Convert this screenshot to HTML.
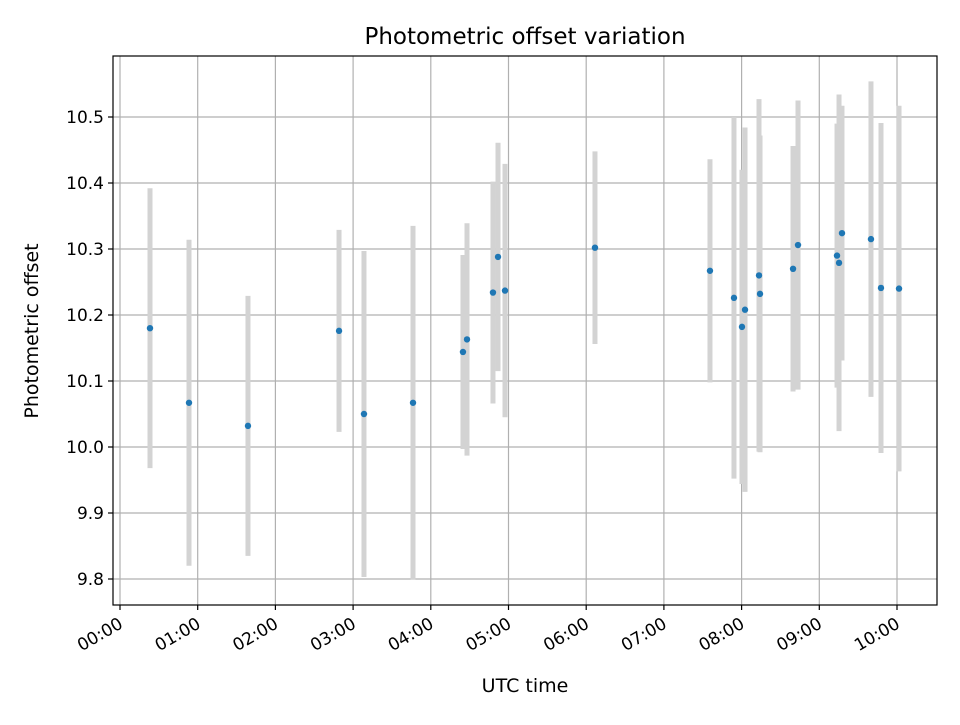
<!DOCTYPE html>
<html><head><meta charset="utf-8"><style>
body{margin:0;background:#fff}
svg{font-family:"DejaVu Sans","Liberation Sans",sans-serif}
</style></head><body>
<svg id="chart" width="960" height="720" viewBox="0 0 960 720" xmlns="http://www.w3.org/2000/svg">
<rect width="960" height="720" fill="#fff"/>
<g id="grid"></g><g id="bars"></g><g id="dots"></g><g id="axes"></g>
<text x="525" y="44" text-anchor="middle" font-size="23">Photometric offset variation</text>
<text x="525" y="692" text-anchor="middle" font-size="19">UTC time</text>
<text transform="translate(38,331) rotate(-90)" text-anchor="middle" font-size="19">Photometric offset</text>
</svg>
<script>
const hours=[0.386,0.888,1.647,2.819,3.140,3.771,4.414,4.466,4.80,4.865,4.955,6.113,7.593,7.902,8.005,8.044,8.224,8.237,8.662,8.726,9.228,9.254,9.292,9.665,9.794,10.026];
const values=[10.18,10.067,10.032,10.176,10.05,10.067,10.144,10.163,10.234,10.288,10.237,10.302,10.267,10.226,10.182,10.208,10.26,10.232,10.27,10.306,10.29,10.279,10.324,10.315,10.241,10.24];
const errors=[0.212,0.247,0.197,0.153,0.247,0.268,0.147,0.176,0.168,0.173,0.192,0.146,0.169,0.274,0.238,0.276,0.267,0.24,0.186,0.219,0.2,0.255,0.193,0.239,0.25,0.277];
const xTicks=["00:00","01:00","02:00","03:00","04:00","05:00","06:00","07:00","08:00","09:00","10:00"];
const yTicks=[9.8,9.9,10.0,10.1,10.2,10.3,10.4,10.5];
const L=113,R=937,T=56,B=605;
const x=h=>120+h*77.7;
const y=v=>447-(v-10)*660;
const NS="http://www.w3.org/2000/svg";
function mk(tag,attrs,parent){const e=document.createElementNS(NS,tag);for(const k in attrs)e.setAttribute(k,attrs[k]);parent.appendChild(e);return e;}
const grid=document.getElementById('grid'),bars=document.getElementById('bars'),dots=document.getElementById('dots'),axes=document.getElementById('axes');
xTicks.forEach((t,i)=>{
  const X=x(i);
  const g=mk('line',{x1:X,x2:X,y1:T,y2:B,stroke:'#b0b0b0','stroke-width':1.2},grid);
  
  
  mk('line',{x1:X,x2:X,y1:B,y2:B+5,stroke:'#000','stroke-width':1.2},axes);
  const ax=X+4,ay=B+22;
  const tx=mk('text',{x:ax,y:ay,'text-anchor':'end','font-size':17,transform:`rotate(-30 ${ax} ${ay})`},axes);
  tx.textContent=t;
  
  
});
yTicks.forEach(v=>{
  const Y=y(v);
  const g=mk('line',{x1:L,x2:R,y1:Y,y2:Y,stroke:'#b0b0b0','stroke-width':1.2},grid);
  
  
  mk('line',{x1:L-5,x2:L,y1:Y,y2:Y,stroke:'#000','stroke-width':1.2},axes);
  const tx=mk('text',{x:L-9,y:Y+6,'text-anchor':'end','font-size':17},axes);
  tx.textContent=v.toFixed(1);
  
  
});
const fr=mk('rect',{x:L,y:T,width:R-L,height:B-T,fill:'none',stroke:'#000','stroke-width':1.2},axes);


hours.forEach((h,i)=>{
  const X=x(h);
  const b=mk('line',{x1:X,x2:X,y1:y(values[i]+errors[i]),y2:y(values[i]-errors[i]),stroke:'#d3d3d3','stroke-width':5},bars);
  
  
  const c=mk('circle',{cx:X,cy:y(values[i]),r:3.2,fill:'#1f77b4'},dots);
  
  
});
</script>
</body></html>
